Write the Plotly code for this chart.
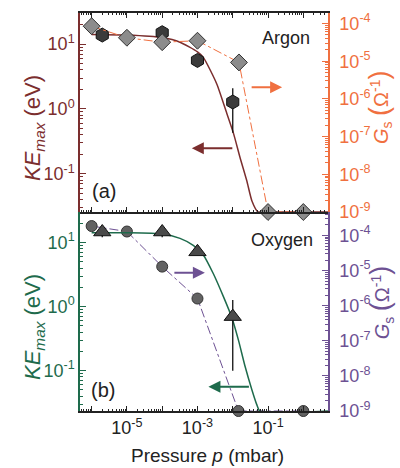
import plotly.graph_objects as go

# ---------------- data ----------------
# Argon, panel (a)
ar_ke_p = [2e-6, 1e-4, 1e-3, 1e-2, 1e-1]
ar_ke = [13.8, 15.0, 5.6, 1.28, 0.0257]
ar_ke_err_plus = [0, 0, 0, 0.80, 0]
ar_ke_err_minus = [0, 0, 0, 0.85, 0]

ar_gs_p = [1e-6, 1e-5, 1e-4, 1e-3, 1.5e-2, 1e-1, 1e0]
ar_gs = [8.5e-5, 4.2e-5, 3.2e-5, 3.5e-5, 9.3e-6, 1e-9, 1e-9]

ar_fit_p = [1e-6, 1e-5, 1e-4, 3.2e-4, 1e-3, 1.45e-3, 3.5e-3, 6.8e-3, 1.05e-2,
            1.6e-2, 2.5e-2, 3.5e-2, 5.2e-2, 1e-1, 1e0, 5.0]
ar_fit = [14.1, 13.8, 12.6, 10.7, 7.6, 6.3, 2.45, 0.85, 0.42,
          0.18, 0.078, 0.038, 0.0257, 0.0257, 0.0257, 0.0257]

# Oxygen, panel (b)
ox_ke_p = [2e-6, 1e-4, 1e-3, 1e-2, 1e-1]
ox_ke = [14.7, 14.7, 7.2, 0.70, 0.0234]
ox_ke_err_plus = [2.5, 2.5, 0.8, 0.57, 0]
ox_ke_err_minus = [2.5, 2.5, 0.8, 0.60, 0]

ox_gs_p = [1e-6, 1e-5, 1e-4, 1e-3, 1.45e-2, 1e0]
ox_gs = [1.86e-4, 1.3e-4, 1.3e-5, 1.6e-6, 1e-9, 1e-9]

ox_fit_p = [1e-6, 1e-5, 1e-4, 3.2e-4, 7.6e-4, 1.45e-3, 2.8e-3, 5.4e-3, 9.3e-3,
            1.45e-2, 2.25e-2, 3.5e-2, 4.8e-2, 5.9e-2, 5.0]
ox_fit = [14.3, 14.3, 13.7, 11.7, 9.1, 6.5, 3.3, 1.45, 0.69,
          0.30, 0.115, 0.050, 0.0295, 0.0234, 0.0234]

x_tick_vals = [1e-6, 1e-5, 1e-4, 1e-3, 1e-2, 1e-1, 1e0]
x_tick_text = ["", "10<sup>-5</sup>", "", "10<sup>-3</sup>", "", "10<sup>-1</sup>", ""]
ke_tick_vals = [0.1, 1, 10]
ke_tick_text = ["10<sup>-1</sup>", "10<sup>0</sup>", "10<sup>1</sup>"]
gs_tick_vals = [1e-9, 1e-8, 1e-7, 1e-6, 1e-5, 1e-4]
gs_tick_text = ["10<sup>-9</sup>", "10<sup>-8</sup>", "10<sup>-7</sup>",
                "10<sup>-6</sup>", "10<sup>-5</sup>", "10<sup>-4</sup>"]

# ---------------- style ----------------
FONT = "Liberation Sans, Arial, sans-serif"
C_AR_KE = "#7b2e2e"
C_AR_GS = "#f07040"
C_OX_KE = "#1e6b4c"
C_OX_GS = "#6d5193"

minor_vals = [k * 10.0 ** e for e in range(-12, 3) for k in range(2, 10)]

fig = go.Figure()

# ---- panel (a) ----
fig.add_trace(go.Scatter(x=ar_fit_p, y=ar_fit, mode="lines", xaxis="x", yaxis="y",
                         line=dict(color=C_AR_KE, width=1.5, shape="spline", smoothing=0.6),
                         cliponaxis=False, showlegend=False))
fig.add_trace(go.Scatter(x=ar_ke_p, y=ar_ke, mode="markers", xaxis="x", yaxis="y",
                         marker=dict(symbol="hexagon", size=14, color="#3b3b3b",
                                     line=dict(color="#111111", width=1)),
                         error_y=dict(type="data", array=ar_ke_err_plus, arrayminus=ar_ke_err_minus,
                                      color="#111111", thickness=1.3, width=0),
                         cliponaxis=False, showlegend=False))
fig.add_trace(go.Scatter(x=ar_gs_p, y=ar_gs, mode="lines+markers", xaxis="x", yaxis="y2",
                         line=dict(color=C_AR_GS, width=1, dash="dashdot"),
                         marker=dict(symbol="diamond", size=13, color="#8c8c8c",
                                     line=dict(color="#333333", width=1)),
                         cliponaxis=False, showlegend=False))

# ---- panel (b) ----
fig.add_trace(go.Scatter(x=ox_gs_p, y=ox_gs, mode="lines+markers", xaxis="x2", yaxis="y3",
                         line=dict(color=C_OX_GS, width=1, dash="dashdot"),
                         marker=dict(symbol="circle", size=11, color="#626262",
                                     line=dict(color="#333333", width=1)),
                         cliponaxis=False, showlegend=False))
fig.add_trace(go.Scatter(x=ox_fit_p, y=ox_fit, mode="lines", xaxis="x2", yaxis="y4",
                         line=dict(color=C_OX_KE, width=1.5, shape="spline", smoothing=0.6),
                         cliponaxis=False, showlegend=False))
fig.add_trace(go.Scatter(x=ox_ke_p, y=ox_ke, mode="markers", xaxis="x2", yaxis="y4",
                         marker=dict(symbol="triangle-up", size=15, color="#4a4a4a",
                                     line=dict(color="#111111", width=1)),
                         error_y=dict(type="data", array=ox_ke_err_plus, arrayminus=ox_ke_err_minus,
                                      color="#111111", thickness=1.3, width=0),
                         cliponaxis=False, showlegend=False))

XR = [-6.33, 0.70]
xcommon = dict(type="log", range=XR, tickmode="array", tickvals=x_tick_vals,
               ticks="inside", ticklen=5, tickwidth=1, tickcolor="#222",
               showline=True, linecolor="#222", linewidth=1.5, showgrid=False, zeroline=False,
               automargin=False,
               minor=dict(tickmode="array", tickvals=minor_vals, ticks="inside",
                          ticklen=2.5, tickcolor="#222", showgrid=False))


def yaxis_common(color, rng, vals, text, side):
    return dict(type="log", range=rng, tickmode="array", tickvals=vals, ticktext=text,
                ticks="inside", ticklen=6, tickwidth=1, tickcolor=color,
                showline=True, linecolor=color, linewidth=1.5, showgrid=False, zeroline=False,
                automargin=False,
                tickfont=dict(family=FONT, size=18, color=color), side=side,
                minor=dict(tickmode="array", tickvals=minor_vals, ticks="inside",
                           ticklen=3, tickcolor=color, showgrid=False))


fig.update_layout(
    width=400, height=468,
    margin=dict(l=80, r=72, t=13, b=57, autoexpand=False),
    paper_bgcolor="white", plot_bgcolor="white",
    font=dict(family=FONT, size=18, color="#222"),
    xaxis=dict(**xcommon, domain=[0, 1], anchor="y", mirror="ticks", showticklabels=False),
    xaxis2=dict(**xcommon, domain=[0, 1], anchor="y3", matches="x", ticktext=x_tick_text,
                tickfont=dict(family=FONT, size=18, color="#222")),
    yaxis=dict(**yaxis_common(C_AR_KE, [-1.59, 1.48], ke_tick_vals, ke_tick_text, "left"),
               domain=[0.5, 1], anchor="x"),
    yaxis2=dict(**yaxis_common(C_AR_GS, [-9, -3.72], gs_tick_vals, gs_tick_text, "right"),
                overlaying="y", anchor="x", ticklabelstandoff=6),
    yaxis3=dict(**yaxis_common(C_OX_GS, [-9, -3.33], gs_tick_vals, gs_tick_text, "right"),
                domain=[0, 0.5], anchor="x2", ticklabelstandoff=6),
    yaxis4=dict(**yaxis_common(C_OX_KE, [-1.63, 1.48], ke_tick_vals, ke_tick_text, "left"),
                overlaying="y3", anchor="x2"),
)

ann = []
ke_title = "<i>KE</i><sub><i>max</i></sub> (eV)"
gs_title = ("<i>G</i><sub>s</sub> <span style='font-size:27px'>(</span>"
            "Ω<sup>-1</sup><span style='font-size:27px'>)</span>")
ann.append(dict(text=ke_title, xref="paper", yref="paper", x=-0.1855, y=0.711,
                xanchor="center", yanchor="middle", textangle=-90, showarrow=False,
                font=dict(family=FONT, size=22, color=C_AR_KE)))
ann.append(dict(text=ke_title, xref="paper", yref="paper", x=-0.1855, y=0.211,
                xanchor="center", yanchor="middle", textangle=-90, showarrow=False,
                font=dict(family=FONT, size=22, color=C_OX_KE)))
ann.append(dict(text=gs_title, xref="paper", yref="paper", x=1.21, y=0.764,
                xanchor="center", yanchor="middle", textangle=-90, showarrow=False,
                font=dict(family=FONT, size=20, color=C_AR_GS)))
ann.append(dict(text=gs_title, xref="paper", yref="paper", x=1.215, y=0.274,
                xanchor="center", yanchor="middle", textangle=-90, showarrow=False,
                font=dict(family=FONT, size=20, color=C_OX_GS)))
ann.append(dict(text="Pressure <i>p</i> (mbar)", xref="paper", yref="paper", x=0.516, y=-0.1106,
                xanchor="center", yanchor="middle", showarrow=False,
                font=dict(family=FONT, size=19, color="#222")))
ann.append(dict(text="Argon", xref="paper", yref="paper", x=0.831, y=0.937,
                xanchor="center", yanchor="middle", showarrow=False,
                font=dict(family=FONT, size=18, color="#222")))
ann.append(dict(text="Oxygen", xref="paper", yref="paper", x=0.815, y=0.43,
                xanchor="center", yanchor="middle", showarrow=False,
                font=dict(family=FONT, size=18, color="#222")))
ann.append(dict(text="(a)", xref="paper", yref="paper", x=0.097, y=0.553,
                xanchor="center", yanchor="middle", showarrow=False,
                font=dict(family=FONT, size=20, color="#222")))
ann.append(dict(text="(b)", xref="paper", yref="paper", x=0.093, y=0.053,
                xanchor="center", yanchor="middle", showarrow=False,
                font=dict(family=FONT, size=20, color="#222")))

# arrows: head position in log10 data units (plotly convention on log axes),
# tail given as a pixel offset
arrow_specs = [
    ("x", "y", -0.60, 0.333, -32, C_AR_GS),
    ("x", "y", -3.16, -0.608, 42, C_AR_KE),
    ("x2", "y4", -2.79, 0.53, -32, C_OX_GS),
    ("x2", "y4", -2.69, -1.25, 42, C_OX_KE),
]
for xr, yr, hx, hy, dx, col in arrow_specs:
    ann.append(dict(text="", xref=xr, yref=yr, x=hx, y=hy, ax=dx, ay=0,
                    showarrow=True, arrowhead=2, arrowsize=1.2, arrowwidth=2,
                    arrowcolor=col, standoff=0))

fig.update_layout(annotations=ann)

fig.write_html("out.html", config={"displayModeBar": False},
               post_script="document.body.style.margin='0px';document.body.style.padding='0px';")
